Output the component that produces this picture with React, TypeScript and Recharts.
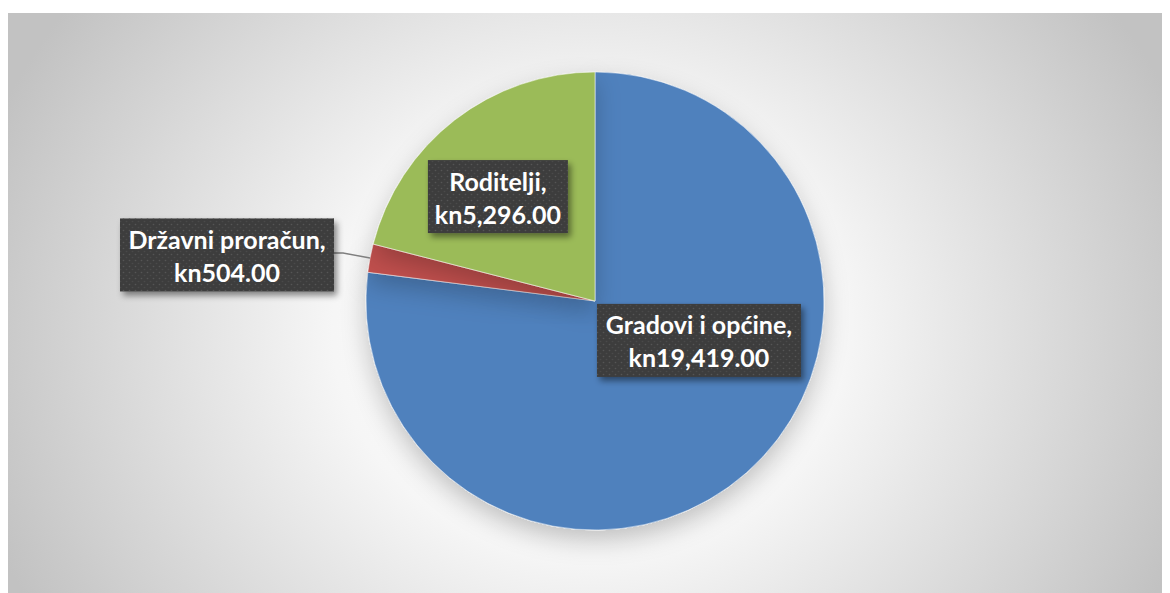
import React from 'react';
import { PieChart, Pie, Cell } from 'recharts';

// data
const categories = ['Gradovi i općine', 'Državni proračun', 'Roditelji'];
const amounts = [19419, 504, 5296];
const COLORS = ['#4F81BD', '#C0504D', '#9BBB59'];

// label box placement, in units of the pie radius relative to its centre
const LABEL_LAYOUT = [
    { dx: 0.454, dy: 0.172, w: 204, leader: false },
    { dx: -1.607, dy: -0.201, w: 214, leader: true },
    { dx: -0.424, dy: -0.456, w: 140, leader: false },
];

const data = categories.map((name, i) => ({ name, value: amounts[i] }));

const fmt = (v: number) =>
    'kn' + v.toLocaleString('en-US', { minimumFractionDigits: 2, maximumFractionDigits: 2 });

const RAD = Math.PI / 180;

const renderLabel = (props: any) => {
    const { cx, cy, outerRadius, midAngle, index, name, value } = props;
    const lay = LABEL_LAYOUT[index];
    const bx = cx + lay.dx * outerRadius;
    const by = cy + lay.dy * outerRadius;
    const h = 73;
    const left = bx - lay.w / 2;
    const top = by - h / 2;
    let leader = null;
    if (lay.leader) {
        const ex = cx + outerRadius * Math.cos(-midAngle * RAD);
        const ey = cy + outerRadius * Math.sin(-midAngle * RAD);
        const right = left + lay.w;
        leader = (
            <polyline
                points={`${ex},${ey} ${right + 9},${by - 2} ${right},${by - 2}`}
                fill="none"
                stroke="#7f7f7f"
                strokeWidth={1.5}
            />
        );
    }
    return (
        <g key={`lbl-${index}`}>
            {leader}
            <rect x={left} y={top} width={lay.w} height={h} fill="#3d3d3d" filter="url(#boxShadow)" />
            <rect x={left} y={top} width={lay.w} height={h} fill="url(#dots)" />
            <text
                x={bx}
                textAnchor="middle"
                fill="#ffffff"
                fontFamily="Lato, 'Noto Sans', sans-serif"
                fontWeight={700}
                fontSize={25}
            >
                <tspan x={bx} y={by - 6}>{name},</tspan>
                <tspan x={bx} y={by + 27}>{fmt(value)}</tspan>
            </text>
        </g>
    );
};

export default function App() {
    return (
        <div
            style={{
                marginTop: 5,
                width: 1162,
                height: 580,
                background:
                    'radial-gradient(ellipse 640px 560px at 50% 55%, #ffffff 0%, #f6f6f6 40%, #c2c2c2 100%)',
            }}
        >
            <PieChart width={1162} height={580} margin={{ top: 0, right: 0, bottom: 0, left: 0 }}>
                <defs>
                    <filter id="pieShadow" x="-30%" y="-30%" width="160%" height="170%">
                        <feDropShadow dx="0" dy="10" stdDeviation="12" floodColor="#000" floodOpacity="0.22" />
                    </filter>
                    <filter id="boxShadow" x="-20%" y="-30%" width="150%" height="170%">
                        <feDropShadow dx="3" dy="4" stdDeviation="3" floodColor="#000" floodOpacity="0.45" />
                    </filter>
                    <pattern id="dots" width="6" height="6" patternUnits="userSpaceOnUse">
                        <circle cx="1.5" cy="1.5" r="0.8" fill="#555555" />
                        <circle cx="4.5" cy="4.5" r="0.8" fill="#4a4a4a" />
                    </pattern>
                </defs>
                <Pie
                    data={data}
                    dataKey="value"
                    nameKey="name"
                    cx={587}
                    cy={288}
                    outerRadius={229}
                    startAngle={90}
                    endAngle={-270}
                    stroke="#ffffff"
                    strokeWidth={0.5}
                    label={renderLabel}
                    labelLine={false}
                    isAnimationActive={false}
                    style={{ filter: 'url(#pieShadow)' }}
                >
                    {data.map((entry, index) => (
                        <Cell key={`cell-${index}`} fill={COLORS[index]} />
                    ))}
                </Pie>
            </PieChart>
        </div>
    );
}
